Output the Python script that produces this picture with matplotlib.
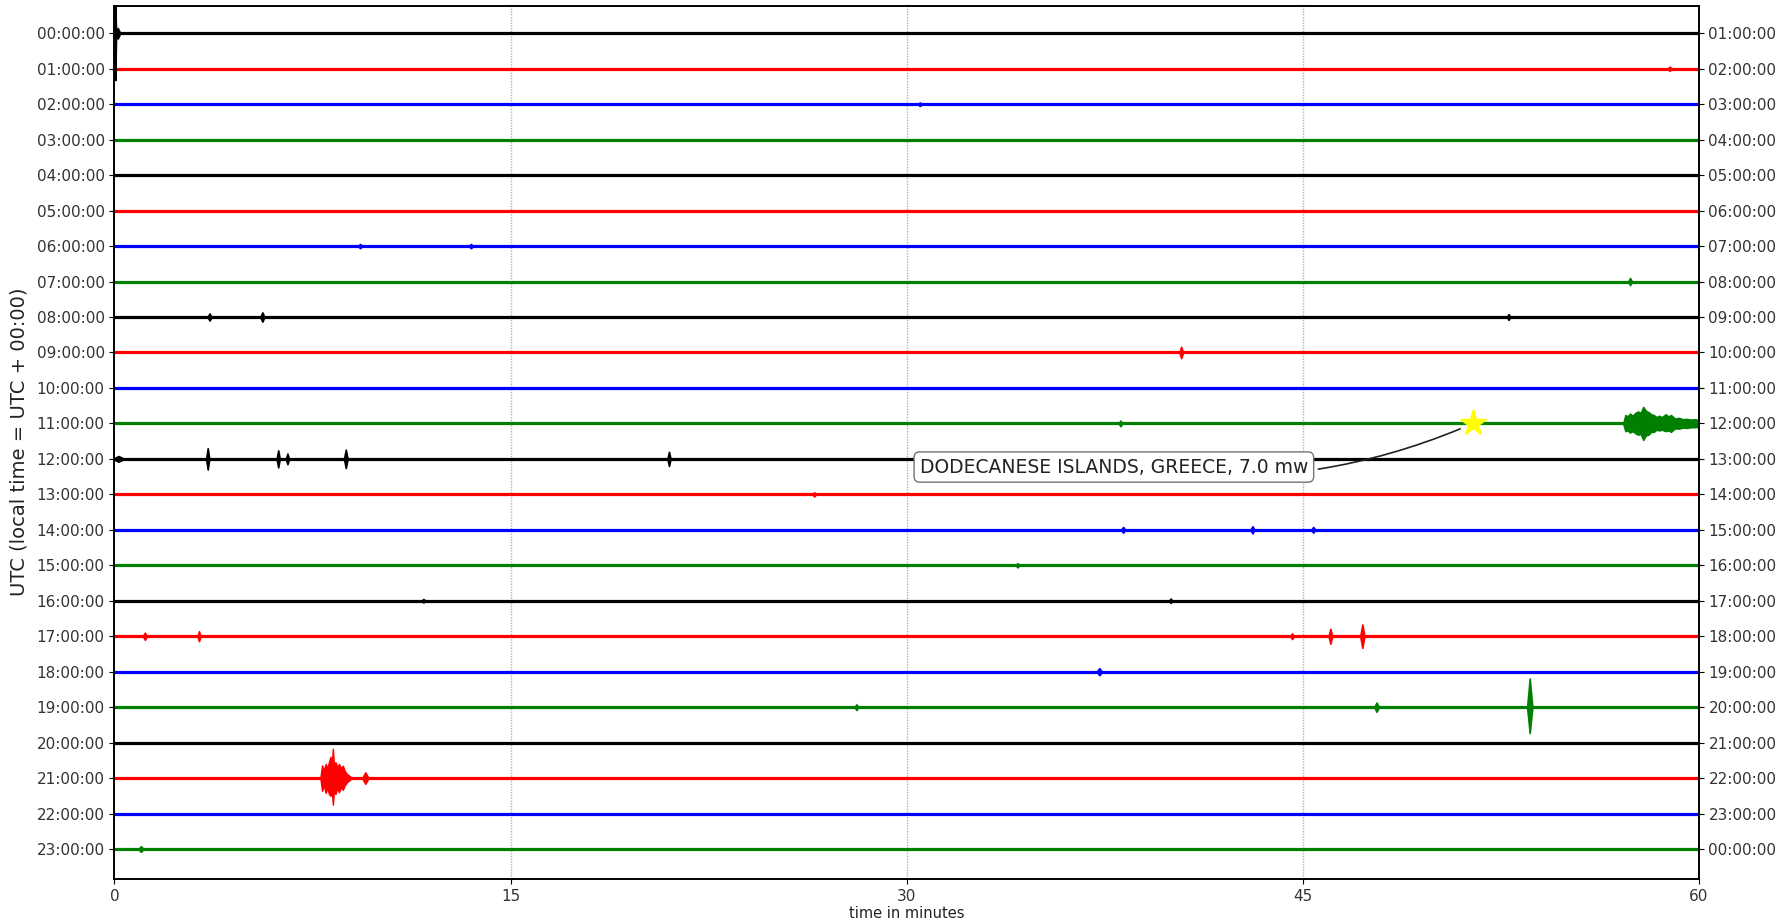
import matplotlib
matplotlib.use("Agg")
import numpy as np
import matplotlib.pyplot as plt

# ---------------------------------------------------------------------
# Data (read off the reference dayplot)
# ---------------------------------------------------------------------
hours = list(range(24))
left_labels = ["%02d:00:00" % h for h in hours]
right_labels = ["%02d:00:00" % ((h + 1) % 24) for h in hours]
row_colors = ["black", "red", "blue", "green"]

xticks = [0, 15, 30, 45, 60]

# short spindle-shaped bursts: row, minute, half-height up / down (row units), half-width (min)
spike_rows = [0, 0, 1, 2, 6, 6, 7, 8, 8, 8, 9, 11, 12, 12, 12, 12, 12, 12,
              13, 14, 14, 14, 15, 16, 16, 17, 17, 17, 17, 17, 18,
              19, 19, 19, 21, 23]
spike_min = [0.03, 0.12, 58.9, 30.5, 9.3, 13.5, 57.4, 3.6, 5.6, 52.8, 40.4, 38.1,
             0.15, 3.53, 6.2, 6.55, 8.76, 21.0,
             26.5, 38.2, 43.1, 45.4, 34.2, 11.7, 40.0, 1.15, 3.2, 44.6, 46.05, 47.26, 37.3,
             28.1, 47.8, 53.6, 9.5, 1.0]
spike_up = [0.80, 0.15, 0.06, 0.05, 0.06, 0.06, 0.10, 0.10, 0.13, 0.08, 0.16, 0.08,
            0.08, 0.30, 0.24, 0.15, 0.26, 0.20,
            0.06, 0.08, 0.10, 0.08, 0.06, 0.05, 0.06, 0.10, 0.14, 0.08, 0.21, 0.33, 0.10,
            0.08, 0.13, 0.81, 0.16, 0.08]
spike_dn = [1.32, 0.15, 0.06, 0.05, 0.06, 0.06, 0.10, 0.10, 0.13, 0.08, 0.16, 0.08,
            0.08, 0.30, 0.24, 0.15, 0.26, 0.20,
            0.06, 0.08, 0.10, 0.08, 0.06, 0.05, 0.06, 0.10, 0.14, 0.08, 0.21, 0.33, 0.10,
            0.08, 0.13, 0.73, 0.16, 0.08]
spike_w = [0.03, 0.10, 0.08, 0.08, 0.08, 0.08, 0.07, 0.08, 0.08, 0.07, 0.07, 0.07,
           0.22, 0.06, 0.06, 0.06, 0.07, 0.06,
           0.07, 0.08, 0.08, 0.08, 0.07, 0.07, 0.07, 0.08, 0.06, 0.07, 0.07, 0.08, 0.10,
           0.07, 0.09, 0.10, 0.12, 0.10]

# 11:00 row - teleseismic arrivals of the Greek earthquake
quake_row = 11
quake_t = [57.15, 57.22, 57.3, 57.4, 57.5, 57.6, 57.7, 57.8, 57.9, 58.0, 58.1, 58.2, 58.3,
           58.4, 58.5, 58.6, 58.75, 58.85, 58.95, 59.1, 59.25, 59.4, 59.55, 59.7, 59.85, 60.0]
quake_up = [0.04, 0.24, 0.20, 0.28, 0.22, 0.30, 0.34, 0.30, 0.47, 0.36, 0.32, 0.26, 0.24,
            0.18, 0.22, 0.18, 0.26, 0.20, 0.24, 0.14, 0.16, 0.12, 0.13, 0.11, 0.12, 0.10]
quake_dn = [0.04, 0.22, 0.20, 0.26, 0.22, 0.28, 0.32, 0.30, 0.47, 0.34, 0.32, 0.24, 0.24,
            0.18, 0.20, 0.18, 0.22, 0.20, 0.24, 0.14, 0.15, 0.12, 0.13, 0.11, 0.11, 0.10]

# 21:00 row - local event
ev21_row = 21
ev21_t = [7.80, 7.86, 7.92, 8.0, 8.06, 8.12, 8.18, 8.23, 8.27, 8.31, 8.37, 8.44,
          8.50, 8.58, 8.65, 8.72, 8.80, 8.95]
ev21_up = [0.02, 0.36, 0.22, 0.40, 0.28, 0.45, 0.60, 0.40, 0.83, 0.38, 0.45, 0.30,
           0.40, 0.28, 0.35, 0.20, 0.12, 0.03]
ev21_dn = [0.02, 0.36, 0.20, 0.42, 0.26, 0.45, 0.50, 0.38, 0.75, 0.36, 0.45, 0.28,
           0.40, 0.26, 0.33, 0.20, 0.12, 0.03]

event_min = 51.45
event_row = 11
event_text = "DODECANESE ISLANDS, GREECE, 7.0 mw"
text_min = 37.85
text_row = 12.23

# ---------------------------------------------------------------------
# Plot
# ---------------------------------------------------------------------
fig = plt.figure(figsize=(17.86, 9.24), dpi=100)
ax = fig.add_axes([114.5 / 1786, 1 - 879 / 924, (1698.7 - 114.5) / 1786, (879 - 5.5) / 924])

for m in xticks[1:-1]:
    ax.axvline(m, color="0.7", lw=1.0, ls=(0, (1, 1)), zorder=0)

for r in hours:
    c = row_colors[r % 4]
    ax.plot([0, 60], [r, r], color=c, lw=2.3, solid_capstyle="butt", zorder=2)

for r, t, up, dn, w in zip(spike_rows, spike_min, spike_up, spike_dn, spike_w):
    c = row_colors[r % 4]
    ax.fill_between([t - w, t, t + w], [r, r - up, r], [r, r + dn, r],
                    color=c, lw=1.2, zorder=3)

for r, t, up, dn in [(quake_row, quake_t, quake_up, quake_dn),
                     (ev21_row, ev21_t, ev21_up, ev21_dn)]:
    c = row_colors[r % 4]
    ax.fill_between(t, [r - u for u in up], [r + d for d in dn],
                    color=c, lw=1.0, zorder=3)

ax.plot(event_min, event_row, marker="*", ms=20, color="yellow",
        markeredgecolor="yellow", zorder=5)
ax.annotate(event_text, xy=(event_min, event_row), xytext=(text_min, text_row),
            ha="center", va="center", fontsize=13.5, color="#222222",
            bbox=dict(boxstyle="round,pad=0.3", fc="white", ec="0.45", lw=1.0),
            arrowprops=dict(arrowstyle="-", color="#222222", lw=1.2,
                            connectionstyle="arc3,rad=0.15", shrinkA=3, shrinkB=10),
            zorder=6)

ax.set_xlim(0, 60)
ax.set_ylim(23.845, -0.783)
ax.set_xticks(xticks)
ax.set_xticklabels([str(x) for x in xticks])
ax.set_yticks(hours)
ax.set_yticklabels(left_labels)
ax.tick_params(labelsize=11, labelcolor="#333333")
ax.set_xlabel("time in minutes", fontsize=10.5, color="#222222", labelpad=2)
ax.set_ylabel("UTC (local time = UTC + 00:00)", fontsize=14, color="#222222", labelpad=6)

ax2 = ax.twinx()
ax2.set_ylim(ax.get_ylim())
ax2.set_yticks(hours)
ax2.set_yticklabels(right_labels)
ax2.tick_params(labelsize=11, labelcolor="#333333")

for a in (ax, ax2):
    for s in a.spines.values():
        s.set_color("black")
        s.set_linewidth(1.2)

fig.savefig("out.png", dpi=100)
